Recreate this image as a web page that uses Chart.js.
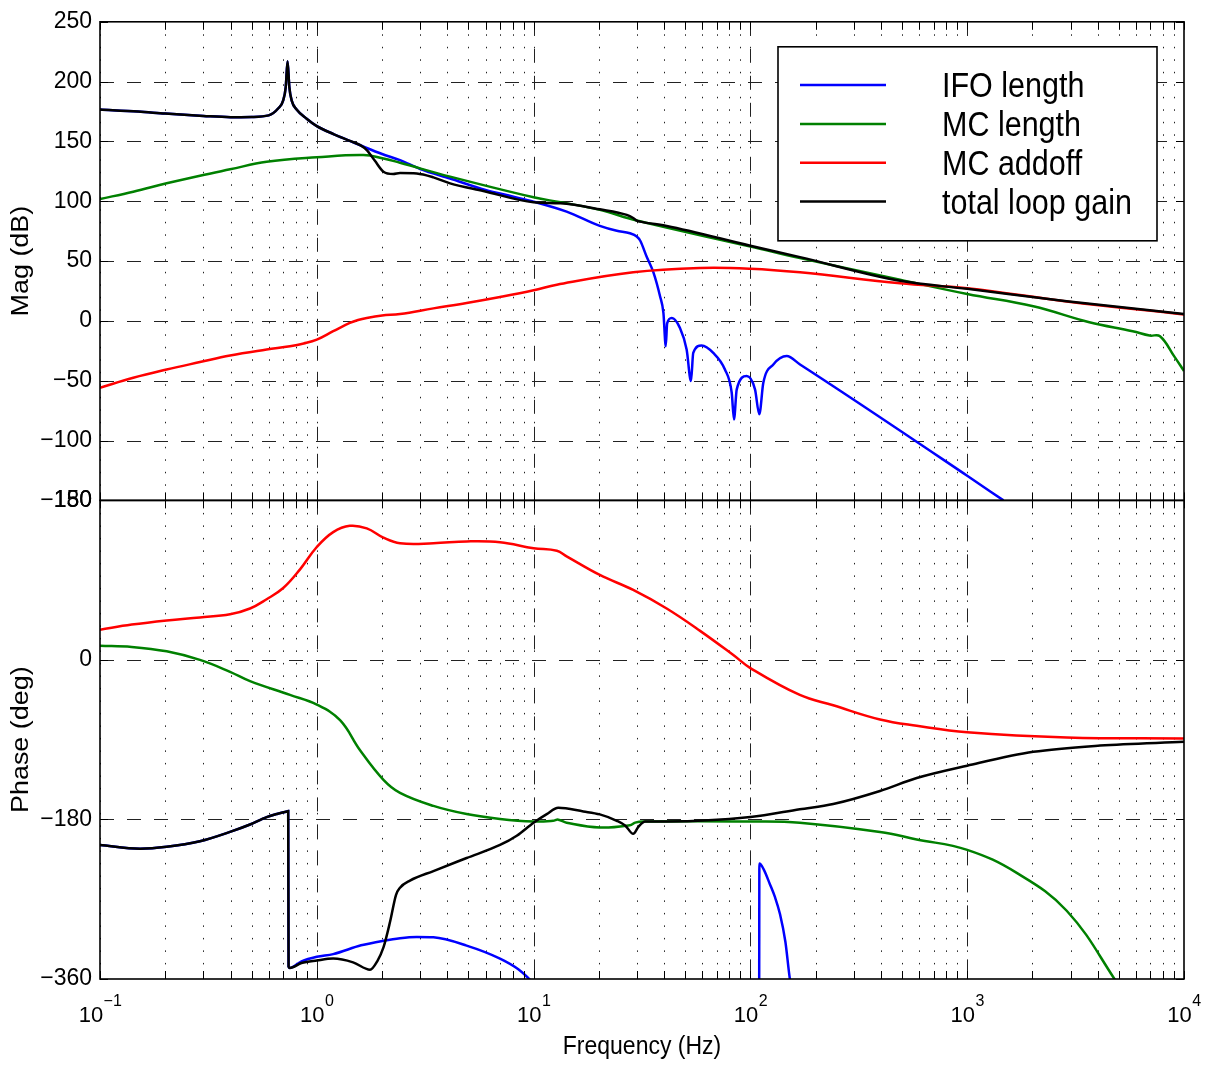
<!DOCTYPE html>
<html>
<head>
<meta charset="utf-8">
<title>Loop gain</title>
<script src="https://cdn.jsdelivr.net/npm/chart.js@4.4.1/dist/chart.umd.min.js"></script>
<style>
  html, body { margin: 0; padding: 0; background: #fff; }
  #bode { display: block; }
</style>
</head>
<body>
<canvas id="bode" width="1208" height="1066"></canvas>
<script>
// ---- axes ----
const freqDecades = [0.1, 1, 10, 100, 1000, 10000];
const magTicks = [-150, -100, -50, 0, 50, 100, 150, 200, 250];
const phaseTicks = [-360, -180, 0, 180];

const seriesLabels = ['IFO length', 'MC length', 'MC addoff', 'total loop gain'];
const seriesColors = ['#0000ff', '#008000', '#ff0000', '#000000'];

// ---- magnitude (dB) ----
const ifoMagHz = [0.1, 0.15, 0.2, 0.3, 0.4, 0.5, 0.6, 0.663, 0.7, 0.719, 0.733, 0.747, 0.766, 0.807, 0.898, 1.0, 1.2, 1.42, 1.7, 2.0,
  2.42, 3.0, 4.12, 6.0, 8.0, 10, 14.2, 20.2, 24.2, 27.8, 29.9, 31.0, 33.2, 35.7, 38.3, 39.7, 40.7, 41.3, 43.4, 47.3,
  50.8, 53.2, 54.5, 59.6, 67.4, 76.3, 82, 84, 86.5, 96.2, 105, 109.9, 114.7, 127.6, 147, 169.4, 1000, 1470];
const ifoMagDb = [176.7, 175, 173.3, 171.3, 170.3, 170.5, 171.8, 177.5, 184.4, 195.5, 217, 195.5, 184.1, 176.7, 169, 162.8, 156, 150.5, 144.5, 139.5,
  134.4, 127, 119, 109.5, 104, 99.7, 91.4, 79.4, 75.3, 73.3, 70.6, 67.2, 53.9, 40.6, 20.6, 6.7, -21.1, -2, 2.5, -5.8,
  -23.9, -50.3, -26.7, -20.5, -26.7, -40.6, -60, -82.3, -57.2, -46.1, -57.2, -78, -51.7, -36.4, -29.4, -36.4, -129.4, -150];

const mcMagHz = [0.1, 0.1424, 0.203, 0.289, 0.398, 0.587, 1.0, 1.64, 2.03, 2.42, 4.12, 10, 13.3, 20.2, 29.9, 100, 169.4, 490, 1000, 2018,
  3660, 5800, 6940, 7750, 9000, 10000];
const mcMagDb = [101.9, 108, 115, 121.4, 126.7, 133, 136.7, 138.6, 135.8, 132.2, 120.6, 103.3, 99.2, 92.8, 83.9, 62.2, 52.5, 34.4, 22.5, 12.2,
  -1.1, -8.6, -12.2, -12.8, -29.4, -41.9];

const addoffMagHz = [0.1, 0.1424, 0.203, 0.289, 0.398, 0.587, 0.752, 0.87, 1.0, 1.19, 1.42, 1.55, 1.7, 2.0, 2.42, 3.45, 4.91, 7.0, 10, 12.8,
  28.8, 58.6, 100, 169.4, 490, 1000, 2877, 10000];
const addoffMagDb = [-55.8, -47.5, -40.6, -34.4, -28.9, -23.9, -21.1, -18.8, -15.6, -8.6, -1.7, 0.8, 2.5, 4.5, 5.8, 10.5, 15, 20, 25.6, 30.3,
  40.6, 44.2, 43.6, 40.6, 31.5, 27.3, 16.3, 5.3];

const totalMagHz = [0.1, 0.15, 0.2, 0.3, 0.4, 0.5, 0.6, 0.663, 0.7, 0.719, 0.733, 0.747, 0.766, 0.807, 0.898, 1.0, 1.2, 1.42, 1.6, 1.7,
  1.85, 2.03, 2.25, 2.42, 2.89, 3.45, 4.12, 5.86, 10, 13.3, 20.2, 26.9, 28.8, 29.9, 31, 41.1, 100, 169.4, 490, 1000,
  2877, 10000];
const totalMagDb = [176.7, 175, 173.3, 171.3, 170.3, 170.5, 171.8, 177.5, 184.4, 195.5, 217, 195.5, 184.1, 176.7, 169, 162.8, 156, 150.5, 146.5, 142.8,
  134, 124.7, 122.8, 123.6, 123.2, 120, 115, 108.6, 99.2, 98.3, 93.3, 88.6, 86, 83.9, 83, 79.4, 62.8, 53.3, 33.5, 26.8,
  16.5, 5.8];

// ---- phase (deg) ----
const ifoPhaseHz = [0.1, 0.153, 0.203, 0.289, 0.398, 0.492, 0.587, 0.66, 0.726, 0.738, 0.741, 0.751, 0.85, 1.0, 1.19, 1.6, 2.03, 2.42, 2.89, 3.45,
  4.91, 7.0, 8.5, 9.63, 9.8, 50, 109.8, 110, 115, 123, 130, 137, 145, 152.3, 154];
const ifoPhaseDeg = [-208.8, -213, -210.9, -204.6, -194, -185.7, -177.3, -173.5, -171, -170.5, -346, -347.5, -340, -334.8, -331.9, -322, -316.8, -313.9, -312.6, -313,
  -322.3, -337, -349, -360.9, -363, null, -363, -229.8, -236, -253, -268, -287, -318, -361, -366];

const mcPhaseHz = [0.1, 0.14, 0.203, 0.289, 0.398, 0.492, 0.752, 1.0, 1.28, 1.58, 2.03, 2.42, 3.45, 4.91, 7.0, 10, 12.3, 13.0, 14.2, 20.2,
  27.8, 29.4, 32.1, 100, 169, 396, 585, 1000, 1692, 2877, 4806, 5000];
const mcPhaseDeg = [16, 14.7, 9.7, 0, -13.4, -23.9, -39.5, -50.4, -68, -101.6, -135.3, -150, -164.7, -173.9, -179.4, -182.3, -181.5, -180.2, -183.6, -189,
  -186.5, -183.6, -182.3, -182.3, -183.6, -194.1, -202.5, -214.3, -240.3, -283, -360.9, -372];

const addoffPhaseHz = [0.1, 0.14, 0.203, 0.289, 0.398, 0.492, 0.587, 0.7, 0.837, 1.0, 1.19, 1.42, 1.7, 2.03, 2.42, 3.45, 4.91, 7.0, 10, 12.8,
  14.2, 20.2, 28.8, 41.1, 58.6, 83.4, 100, 169, 241, 396, 585, 1000, 2877, 10000];
const addoffPhaseDeg = [34.1, 39.9, 44.6, 48, 51.5, 58, 68.5, 81.1, 102.2, 127.4, 144.2, 151.3, 148.4, 137.9, 131.6, 131.6, 133.7, 132.8, 126.1, 123.2,
  116.9, 95.9, 79, 58, 32.8, 5.5, -9.2, -39.5, -51.2, -67.2, -74.3, -81.5, -87.4, -88.6];

const totalPhaseHz = [0.1, 0.153, 0.203, 0.289, 0.398, 0.492, 0.587, 0.66, 0.726, 0.738, 0.741, 0.751, 0.85, 1.0, 1.19, 1.47, 1.76, 1.9, 2.03, 2.18,
  2.32, 2.42, 2.69, 3.45, 4.91, 7.0, 8.36, 10, 11.5, 13.0, 16.96, 20.2, 24.2, 26.5, 28.8, 30.5, 32.7, 41.1, 100, 169,
  241, 396, 585, 1000, 2018, 4098, 10000];
const totalPhaseDeg = [-208.8, -213, -210.9, -204.6, -194, -185.7, -177.3, -173.5, -171, -170.5, -346, -347.5, -342, -339.1, -337, -341.2, -349.6, -340, -324.4, -294.9,
  -265, -257, -249, -238.2, -223.5, -208.8, -198.3, -183.6, -174, -166.8, -171, -174.3, -181.5, -187, -196.2, -188, -182.3, -182.3, -177.3, -168.5,
  -162.6, -147.9, -133.2, -119.3, -103.7, -96.6, -92.4];

// ---- helpers ----
const FONT = '"Liberation Sans", Arial, Helvetica, sans-serif';
const minus = v => (v < 0 ? '\u2212' + (-v) : String(v));
const toPoints = (hz, vals) => hz.map((f, i) => ({ x: f, y: vals[i] }));

// sharp = keep notches, spikes and phase wraps crisp (monotone), otherwise a plain spline
function trace(idx, hz, vals, axis, sharp) {
  return {
    label: seriesLabels[idx],
    data: toPoints(hz, vals),
    yAxisID: axis,
    borderColor: seriesColors[idx],
    backgroundColor: seriesColors[idx],
    borderWidth: 2.5,
    pointRadius: 0,
    cubicInterpolationMode: sharp ? 'monotone' : 'default',
    tension: sharp ? 0 : 0.4,
    spanGaps: false,
    order: 4 - idx, // total loop gain ends up on top
  };
}

// minor log positions 1..9 x decade
const minorHz = [];
freqDecades.slice(0, -1).forEach(d => { for (let k = 1; k <= 9; k++) minorHz.push(k * d); });

function seg(ctx, x1, y1, x2, y2) {
  ctx.beginPath(); ctx.moveTo(x1, y1); ctx.lineTo(x2, y2); ctx.stroke();
}

// text drawn a little taller than wide, like the exported figure fonts
function tallText(ctx, text, x, y, size, stretch, align, rotate) {
  ctx.save();
  ctx.translate(x, y);
  if (rotate) {
    ctx.rotate(-Math.PI / 2);
    ctx.scale(stretch, 1);
  } else {
    ctx.scale(1, stretch);
  }
  ctx.font = size + 'px ' + FONT;
  ctx.textAlign = align;
  ctx.fillText(text, 0, 0);
  ctx.restore();
}

// MATLAB style grid, box, ticks, labels and legend
const bodeAxes = {
  id: 'bodeAxes',
  beforeDatasetsDraw(chart) {
    const { ctx, scales: { x, yMag, yPhase } } = chart;
    ctx.save();
    ctx.strokeStyle = '#222';
    ctx.lineWidth = 1;
    ctx.setLineDash([1.5, 11]);
    minorHz.forEach(f => {
      const px = Math.round(x.getPixelForValue(f)) + 0.5;
      [yMag, yPhase].forEach(s => seg(ctx, px, s.top, px, s.bottom));
    });
    ctx.setLineDash([14, 13]);
    freqDecades.slice(1, -1).forEach(f => {
      const px = Math.round(x.getPixelForValue(f)) + 0.5;
      [yMag, yPhase].forEach(s => seg(ctx, px, s.top, px, s.bottom));
    });
    [[yMag, magTicks], [yPhase, phaseTicks]].forEach(([s, ticks]) => {
      ticks.forEach(v => {
        if (v <= s.min || v >= s.max) return;
        const py = Math.round(s.getPixelForValue(v)) + 0.5;
        seg(ctx, x.left, py, x.right, py);
      });
    });
    ctx.restore();
  },
  afterDatasetsDraw(chart) {
    const { ctx, chartArea, scales: { x, yMag, yPhase } } = chart;
    const tick = 8;
    ctx.save();
    ctx.strokeStyle = '#000';
    ctx.setLineDash([]);
    ctx.lineWidth = 1;

    // tick marks, pointing inward on every side of both panes
    [yMag, yPhase].forEach(s => {
      minorHz.concat([10000]).forEach(f => {
        const px = Math.round(x.getPixelForValue(f)) + 0.5;
        seg(ctx, px, s.top, px, s.top + tick);
        seg(ctx, px, s.bottom, px, s.bottom - tick);
      });
    });
    [[yMag, magTicks], [yPhase, phaseTicks]].forEach(([s, ticks]) => {
      ticks.forEach(v => {
        const py = Math.round(s.getPixelForValue(v)) + 0.5;
        seg(ctx, x.left, py, x.left + tick, py);
        seg(ctx, x.right, py, x.right - tick, py);
      });
    });

    // pane frames
    ctx.lineWidth = 1.6;
    [yMag, yPhase].forEach(s => ctx.strokeRect(x.left, s.top, x.right - x.left, s.bottom - s.top));

    // decade labels 10^n
    ctx.fillStyle = '#000';
    ctx.textBaseline = 'alphabetic';
    ctx.textAlign = 'left';
    freqDecades.forEach(f => {
      const px = x.getPixelForValue(f);
      const e = Math.round(Math.log10(f));
      const sup = minus(e);
      ctx.font = '22px ' + FONT;
      const w1 = ctx.measureText('10').width;
      ctx.font = '16px ' + FONT;
      const w2 = ctx.measureText(sup).width;
      const x0 = px - (w1 + w2) / 2;
      ctx.font = '22px ' + FONT;
      ctx.fillText('10', x0, yPhase.bottom + 42.5);
      ctx.font = '16px ' + FONT;
      ctx.fillText(sup, x0 + w1 + 0.5, yPhase.bottom + 27);
    });

    // axis titles
    tallText(ctx, 'Frequency (Hz)', (x.left + x.right) / 2, yPhase.bottom + 74.5, 23, 1.14, 'center', false);
    ctx.textBaseline = 'middle';
    tallText(ctx, 'Mag (dB)', 22, (yMag.top + yMag.bottom) / 2, 23, 1.17, 'center', true);
    tallText(ctx, 'Phase (deg)', 22, (yPhase.top + yPhase.bottom) / 2, 23, 1.17, 'center', true);
    ctx.textBaseline = 'alphabetic';

    // legend
    const box = { left: chartArea.right - 406, top: chartArea.top + 25, right: chartArea.right - 27, bottom: chartArea.top + 219 };
    ctx.fillStyle = '#fff';
    ctx.fillRect(box.left, box.top, box.right - box.left, box.bottom - box.top);
    ctx.lineWidth = 1.6;
    ctx.strokeStyle = '#000';
    ctx.strokeRect(box.left, box.top, box.right - box.left, box.bottom - box.top);
    seriesLabels.forEach((name, i) => {
      const ly = box.top + 38.3 + i * 38.8;
      ctx.strokeStyle = seriesColors[i];
      ctx.lineWidth = 2.5;
      seg(ctx, box.left + 22, ly, box.left + 108, ly);
      ctx.fillStyle = '#000';
      tallText(ctx, name, box.left + 164, ly + 12, 30.5, 1.13, 'left', false);
    });
    ctx.restore();
  }
};

function yAxis(ticks, min, max, weight) {
  return {
    type: 'linear',
    position: 'left',
    stack: 'bode',
    stackWeight: 1,
    weight: weight,
    min: min,
    max: max,
    afterBuildTicks: s => { s.ticks = ticks.map(v => ({ value: v })); },
    afterFit: s => { s.width = 100; },
    grid: { display: false, drawTicks: false },
    border: { display: false },
    ticks: { color: '#000', font: { size: 23, family: FONT }, padding: 8, autoSkip: false, callback: v => minus(v) },
  };
}

Chart.defaults.font.family = FONT;

new Chart(document.getElementById('bode'), {
  type: 'line',
  data: {
    datasets: [
      trace(0, ifoMagHz, ifoMagDb, 'yMag', true),
      trace(1, mcMagHz, mcMagDb, 'yMag', false),
      trace(2, addoffMagHz, addoffMagDb, 'yMag', false),
      trace(3, totalMagHz, totalMagDb, 'yMag', true),
      trace(0, ifoPhaseHz, ifoPhaseDeg, 'yPhase', true),
      trace(1, mcPhaseHz, mcPhaseDeg, 'yPhase', false),
      trace(2, addoffPhaseHz, addoffPhaseDeg, 'yPhase', false),
      trace(3, totalPhaseHz, totalPhaseDeg, 'yPhase', true),
    ]
  },
  options: {
    responsive: false,
    animation: false,
    layout: { padding: { left: 0, right: 24, top: 17, bottom: 87 } },
    plugins: { legend: { display: false }, tooltip: { enabled: false } },
    scales: {
      x: { type: 'logarithmic', min: 0.1, max: 10000, display: false },
      yPhase: yAxis(phaseTicks, -360, 180, 0),
      yMag: yAxis(magTicks, -150, 250, 1),
    }
  },
  plugins: [bodeAxes]
});
</script>
</body>
</html>
